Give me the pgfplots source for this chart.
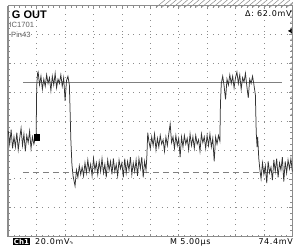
\documentclass[border=0pt]{standalone}
\usepackage{pgfplots}
\pgfplotsset{compat=1.18}
\usepackage{fontspec}
\setmainfont{Liberation Sans}
\newfontfamily\scopefont[LetterSpace=8]{DejaVu Sans}
\newfontfamily\djv{DejaVu Sans}
\definecolor{gridc}{HTML}{8C8C8C}
\definecolor{curc}{HTML}{808080}
\definecolor{wavec}{HTML}{333333}
\definecolor{textgray}{HTML}{606060}
\pgfplotstableread{
x y
-5.00 -0.35
-4.95 -0.80
-4.90 -0.30
-4.85 -0.95
-4.80 -0.55
-4.75 -0.90
-4.70 -0.40
-4.65 -1.00
-4.60 -0.60
-4.55 -0.25
-4.50 -0.85
-4.45 -0.45
-4.40 -1.05
-4.35 -0.50
-4.30 -0.75
-4.25 -0.35
-4.20 -0.95
-4.15 -0.55
-4.10 -0.80
-4.05 -0.60
-4.02 -0.55
-4.00 1.20
-3.97 1.65
-3.95 1.70
-3.90 1.25
-3.85 1.55
-3.80 1.10
-3.75 1.45
-3.70 1.20
-3.65 1.60
-3.60 1.30
-3.55 1.50
-3.50 1.05
-3.45 1.55
-3.40 1.25
-3.35 1.65
-3.30 1.15
-3.25 1.45
-3.20 1.30
-3.15 1.60
-3.10 1.20
-3.05 1.50
-3.00 0.70
-2.95 1.40
-2.90 1.55
-2.85 1.25
-2.82 0.20
-2.80 -0.60
-2.76 -1.50
-2.72 -1.90
-2.65 -2.25
-2.60 -1.70
-2.55 -1.95
-2.50 -1.55
-2.45 -1.85
-2.40 -1.60
-2.35 -1.90
-2.30 -1.45
-2.25 -1.80
-2.20 -1.35
-2.15 -1.75
-2.10 -1.50
-2.05 -1.90
-2.00 -1.30
-1.95 -1.70
-1.90 -1.45
-1.85 -1.85
-1.80 -1.40
-1.75 -1.75
-1.70 -1.30
-1.65 -1.80
-1.60 -1.50
-1.55 -1.95
-1.50 -1.35
-1.45 -1.70
-1.40 -1.40
-1.35 -1.85
-1.30 -1.30
-1.25 -1.75
-1.20 -1.50
-1.15 -1.90
-1.10 -1.35
-1.05 -1.65
-1.00 -1.45
-0.95 -1.95
-0.90 -1.30
-0.85 -1.80
-0.80 -1.40
-0.75 -1.70
-0.70 -1.25
-0.65 -1.85
-0.60 -1.45
-0.55 -1.75
-0.50 -1.35
-0.45 -1.90
-0.40 -1.30
-0.35 -1.65
-0.30 -1.25
-0.25 -1.95
-0.20 -1.40
-0.15 -1.70
-0.12 -1.20
-0.09 -0.40
-0.05 -0.70
0.00 -0.95
0.05 -0.55
0.10 -0.85
0.15 -0.45
0.20 -1.00
0.25 -0.60
0.30 -0.90
0.35 -0.50
0.40 -0.80
0.45 -0.65
0.50 -1.05
0.55 -0.55
0.60 -0.85
0.65 -0.45
0.70 -0.10
0.75 -0.75
0.80 -0.55
0.85 -0.95
0.90 -0.50
0.95 -0.85
1.00 -0.60
1.05 -1.25
1.10 -0.55
1.15 -0.90
1.20 -0.50
1.25 -0.80
1.30 -0.60
1.35 -1.00
1.40 -0.45
1.45 -0.85
1.50 -0.55
1.55 -0.95
1.60 -0.50
1.65 -0.80
1.70 -0.65
1.75 -1.05
1.80 -0.45
1.85 -0.75
1.90 -0.55
1.95 -0.95
2.00 -0.50
2.05 -0.85
2.10 -0.45
2.15 -0.90
2.20 -0.60
2.25 -1.40
2.30 -0.55
2.35 -0.80
2.40 -0.50
2.45 -0.70
2.47 0.60
2.50 1.30
2.55 1.55
2.60 1.20
2.65 0.75
2.70 1.45
2.75 1.25
2.80 1.60
2.85 1.30
2.90 1.55
2.95 1.15
3.00 1.50
3.05 1.70
3.10 1.30
3.15 1.60
3.20 1.10
3.25 1.50
3.30 1.35
3.35 1.65
3.40 1.20
3.45 0.80
3.50 1.45
3.55 1.30
3.60 1.55
3.65 1.25
3.70 0.90
3.73 -0.40
3.76 -0.90
3.78 -0.55
3.82 -1.30
3.86 -1.70
3.90 -2.00
3.95 -1.45
4.00 -1.85
4.05 -1.55
4.10 -2.15
4.15 -1.40
4.20 -1.80
4.25 -1.60
4.30 -2.05
4.35 -1.35
4.40 -1.75
4.45 -1.30
4.50 -1.95
4.55 -1.45
4.60 -1.70
4.65 -1.25
4.70 -2.10
4.75 -1.40
4.80 -1.80
4.85 -1.35
4.90 -1.65
4.95 -1.30
5.00 -1.75
}\wavetable
\begin{document}
\begin{tikzpicture}
\path[use as bounding box, fill=white] (-8.3bp,-13.5bp) rectangle (284.7bp,236.5bp);
\begin{axis}[
  at={(0,0)}, anchor=south west, scale only axis,
  width=284bp, height=231bp,
  xmin=-5, xmax=5, ymin=-4, ymax=4,
  xtick distance=1, ytick distance=1,
  minor x tick num=4, minor y tick num=4,
  xticklabels={}, yticklabels={},
  tick align=inside, major tick length=3bp, minor tick length=2bp,
  tick style={gridc, line width=0.5bp},
  grid=major,
  major grid style={gridc, line width=0.7bp, dash pattern=on 0.8bp off 4.88bp},
  axis line style={gridc, line width=0.8bp},
  clip=false,
]
\draw[gridc, line width=1.6bp] (rel axis cs:0,0) -- (rel axis cs:0,1);
\pgfplotsinvokeforeach{-4.8,-4.6,...,4.8}{
  \draw[gridc, line width=0.5bp] (axis cs:#1,0) ++(0,-2bp) -- ++(0,4bp);
}
\pgfplotsinvokeforeach{-3.8,-3.6,...,3.8}{
  \draw[gridc, line width=0.5bp] (axis cs:0,#1) ++(-2bp,0) -- ++(4bp,0);
}
\addplot[curc, line width=1bp] coordinates {(-4.47,1.33) (4.63,1.33)};
\addplot[curc, line width=1bp, dash pattern=on 6bp off 4bp] coordinates {(-4.47,-1.78) (4.63,-1.78)};
\addplot[wavec, line width=0.75bp] table[x=x, y=y] {\wavetable};
\addplot[only marks, mark=square*, mark size=2.8bp, black] coordinates {(-4.00,-0.56)};
\addplot[only marks, mark=triangle*, mark size=2.2bp, mark options={rotate=90}, black] coordinates {(4.94,3.12)};
\end{axis}
\node[anchor=base west, inner sep=0, font=\bfseries\fontsize{11bp}{12bp}\selectfont] at (3.4bp,217.5bp) {G OUT};
\node[anchor=base west, inner sep=0, text=textgray, font=\fontsize{7.6bp}{8bp}\selectfont] at (1bp,208.8bp) {IC1701};
\node[anchor=base west, inner sep=0, text=textgray, font=\fontsize{7.6bp}{8bp}\selectfont] at (2.7bp,199.2bp) {Pin43};
\node[anchor=base east, inner sep=0, font=\scopefont\fontsize{8bp}{9bp}\selectfont] at (283.4bp,219.5bp) {Δ: 62.0mV};
\node[anchor=base west, fill=black, text=white, inner sep=1bp, font=\djv\bfseries\fontsize{7bp}{8bp}\selectfont] at (4.4bp,-7.5bp) {Ch1};
\node[anchor=base west, inner sep=0, font=\scopefont\fontsize{8bp}{9bp}\selectfont] at (26.7bp,-7.5bp) {20.0mV{\fontsize{5bp}{6bp}\selectfont ∿}};
\node[anchor=base west, inner sep=0, font=\scopefont\fontsize{8bp}{9bp}\selectfont] at (161.7bp,-7.5bp) {M 5.00µs};
\node[anchor=base east, inner sep=0, font=\scopefont\fontsize{8bp}{9bp}\selectfont] at (284.7bp,-7.5bp) {74.4mV};
\end{tikzpicture}
\end{document}
